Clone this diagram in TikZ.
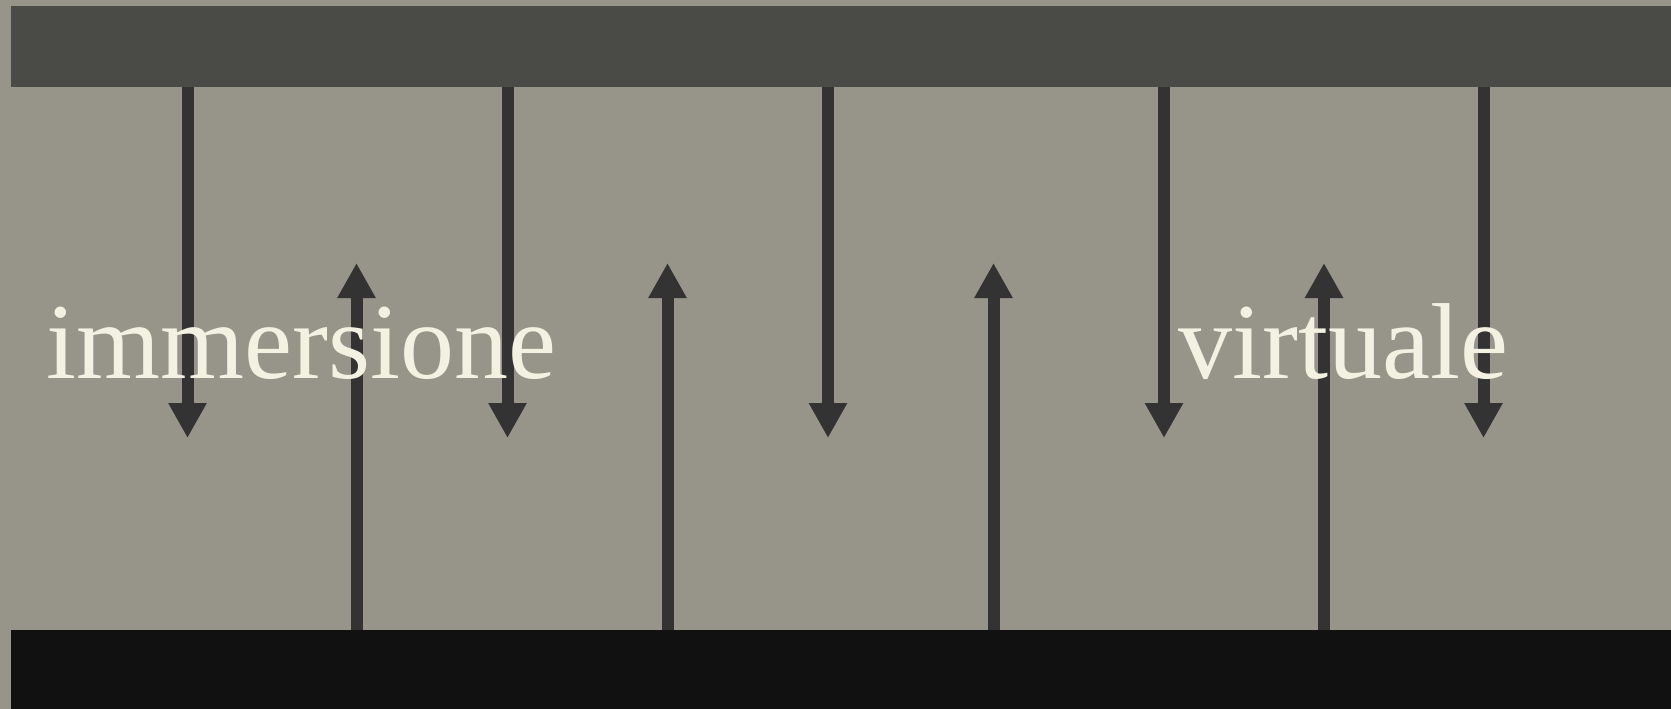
\documentclass[tikz,border=0pt]{standalone}
\usepackage{fontspec}
\setmainfont{Liberation Serif}
\usetikzlibrary{arrows.meta}
\definecolor{bg}{HTML}{979589}
\definecolor{topband}{HTML}{4A4A46}
\definecolor{botband}{HTML}{111111}
\definecolor{arrowc}{HTML}{333333}
\definecolor{txt}{HTML}{F3F1E1}
\tikzset{
  band/.style={draw=none,inner sep=0pt,outer sep=0pt,anchor=north west},
  flow/.style={draw=arrowc,line width=12bp,-{Triangle[width=36bp,length=35bp]}},
  word/.style={text=txt,inner sep=0pt,anchor=base west,font=\fontsize{108bp}{120bp}\selectfont}
}
\begin{document}
\begin{tikzpicture}[x=1bp,y=-1bp]
\fill[bg] (0,0) rectangle (1671,709);
\useasboundingbox (0,0) rectangle (1671,709);
\node[band,fill=topband,minimum width=1660bp,minimum height=81bp] (top) at (11,6) {};
\node[band,fill=botband,minimum width=1660bp,minimum height=79bp] (bot) at (11,630) {};
% down arrows
\foreach \i/\x in {1/187.5,2/507.5,3/828,4/1164,5/1483.5}{
  \coordinate (ds\i) at (\x,87);
  \coordinate (de\i) at (\x,438);
  \draw[flow] (ds\i) -- (de\i);
}
% up arrows
\foreach \i/\x in {1/356.5,2/667.5,3/993.5,4/1324}{
  \coordinate (us\i) at (\x,630);
  \coordinate (ue\i) at (\x,263);
  \draw[flow] (us\i) -- (ue\i);
}
\node[word] (w1) at (46,378) {immersione};
\node[word] (w2) at (1178,378) {virtuale};
\end{tikzpicture}
\end{document}
